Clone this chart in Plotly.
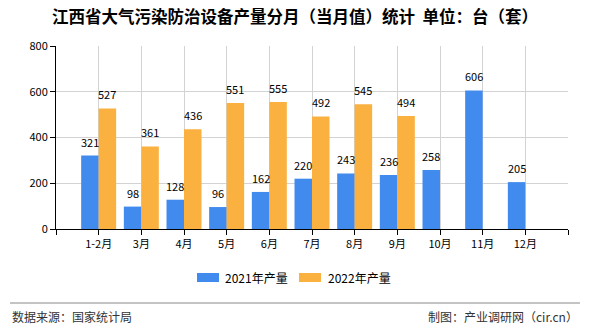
import plotly.graph_objects as go

categories = ["1-2月", "3月", "4月", "5月", "6月", "7月", "8月", "9月", "10月", "11月", "12月"]
y2021 = [321, 98, 128, 96, 162, 220, 243, 236, 258, 606, 205]
y2022 = [527, 361, 436, 551, 555, 492, 545, 494, None, None, None]
series_names = ["2021年产量", "2022年产量"]
colors = ["#418aee", "#fbb13f"]
title_text = "江西省大气污染防治设备产量分月（当月值）统计  单位：台（套）"
source_text = "数据来源：国家统计局"
credit_text = "制图：产业调研网（cir.cn）"

FONT = "Noto Sans CJK SC"
W, H = 590, 330
ml, mr, mt, mb = 56, 22, 46, 101
pw = W - ml - mr
ph = H - mt - mb
BARGAP = 0.18

def py(pix):
    return (H - mb - pix) / ph

def px(pix):
    return (pix - ml) / pw

xs = list(range(len(categories)))

fig = go.Figure()
for name, vals, col in zip(series_names, [y2021, y2022], colors):
    fig.add_trace(go.Bar(x=xs, y=vals, name=name, marker_color=col,
                         marker_line_width=0, showlegend=False))

# value labels above bars
annotations = []
half = (1 - BARGAP) / 4
for vals, off in [(y2021, -half), (y2022, half)]:
    for i, v in zip(xs, vals):
        if v is None:
            continue
        annotations.append(dict(x=i + off, y=v, xref="x", yref="y", text=str(v),
                                showarrow=False, yanchor="bottom", yshift=4,
                                font=dict(family=FONT, size=11, color="#000000")))

# custom legend
legend_items = [(197, 219, 223), (299, 321, 326)]
shapes = []
for (s0, s1, tx), name, col in zip(legend_items, series_names, colors):
    shapes.append(dict(type="rect", xref="paper", yref="paper",
                       x0=px(s0), x1=px(s1), y0=py(282), y1=py(273),
                       fillcolor=col, line=dict(width=0)))
    annotations.append(dict(text=name, xref="paper", yref="paper", x=px(tx), xanchor="left",
                            y=py(277), yanchor="middle", showarrow=False,
                            font=dict(family=FONT, size=12, color="#000000")))

shapes.append(dict(type="line", xref="paper", yref="paper",
                   x0=px(10), x1=px(580), y0=py(303), y1=py(303),
                   line=dict(color="#888888", width=1)))
annotations += [
    dict(text=source_text, xref="paper", yref="paper",
         x=px(10), xanchor="left", y=py(316), yanchor="middle",
         showarrow=False, font=dict(family=FONT, size=12, color="#333333")),
    dict(text=credit_text, xref="paper", yref="paper",
         x=px(580), xanchor="right", y=py(316), yanchor="middle",
         showarrow=False, font=dict(family=FONT, size=12, color="#333333")),
]

tickvals = list(range(-1, len(categories) + 1))
ticktext = [""] + categories + [""]

fig.update_layout(
    width=W, height=H,
    margin=dict(l=ml, r=mr, t=mt, b=mb),
    paper_bgcolor="white", plot_bgcolor="white",
    barmode="group", bargap=BARGAP, bargroupgap=0,
    font=dict(family=FONT, size=11, color="#000000"),
    title=dict(text="<b>" + title_text + "</b>", x=0.5, xanchor="center",
               y=1 - 17 / H, yanchor="middle",
               font=dict(family=FONT, size=16.5, color="#000000")),
    showlegend=False,
    xaxis=dict(range=[-1, len(categories)], tickvals=tickvals, ticktext=ticktext,
               showgrid=True, gridcolor="#d3d3d3", gridwidth=1,
               showline=True, linecolor="#000000", linewidth=1,
               ticks="outside", ticklen=5, tickcolor="#000000",
               tickfont=dict(family=FONT, size=11, color="#000000"), zeroline=False),
    yaxis=dict(range=[0, 800], dtick=200, showgrid=True, gridcolor="#d3d3d3", gridwidth=1,
               showline=True, linecolor="#000000", linewidth=1,
               ticks="outside", ticklen=5, tickcolor="#000000",
               tickfont=dict(family=FONT, size=11, color="#000000"), zeroline=False),
    shapes=shapes,
    annotations=annotations,
)

fig.write_html("out.html")
